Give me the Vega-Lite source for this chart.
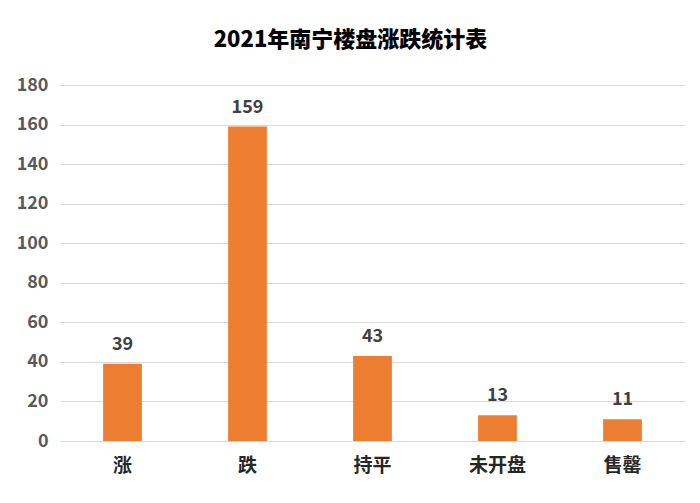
{
  "$schema": "https://vega.github.io/schema/vega-lite/v6.json",
  "autosize": "none",
  "width": 625,
  "height": 356,
  "padding": {"left": 60, "top": 85, "right": 15, "bottom": 62},
  "background": "white",
  "title": {
    "text": "2021年南宁楼盘涨跌统计表",
    "font": "Noto Sans CJK SC",
    "fontSize": 22,
    "fontWeight": 900,
    "color": "#000000",
    "anchor": "middle",
    "dx": -22,
    "offset": 24
  },
  "config": {
    "view": {"stroke": null},
    "font": "Noto Sans CJK SC"
  },
  "data": {
    "values": [
      {"类别": "涨", "数量": 39},
      {"类别": "跌", "数量": 159},
      {"类别": "持平", "数量": 43},
      {"类别": "未开盘", "数量": 13},
      {"类别": "售罄", "数量": 11}
    ]
  },
  "encoding": {
    "x": {
      "field": "类别",
      "type": "nominal",
      "sort": null,
      "scale": {"paddingInner": 0.69, "paddingOuter": 0.345},
      "axis": {
        "title": null,
        "labelAngle": 0,
        "labelFontSize": 19,
        "labelFontWeight": "bold",
        "labelColor": "#262626",
        "labelPadding": 15,
        "ticks": false,
        "domainColor": "#d9d9d9",
        "domainWidth": 1
      }
    },
    "y": {
      "field": "数量",
      "type": "quantitative",
      "scale": {"domain": [0, 180], "nice": false},
      "axis": {
        "title": null,
        "values": [0, 20, 40, 60, 80, 100, 120, 140, 160, 180],
        "labelFontSize": 18,
        "labelFontWeight": "bold",
        "labelColor": "#595959",
        "labelPadding": 12,
        "ticks": false,
        "domain": false,
        "gridColor": "#d9d9d9",
        "gridWidth": 1
      }
    }
  },
  "layer": [
    {"mark": {"type": "bar", "color": "#ed7d31"}},
    {
      "mark": {
        "type": "text",
        "dy": -10,
        "baseline": "bottom",
        "fontSize": 18,
        "fontWeight": "bold",
        "color": "#404040"
      },
      "encoding": {"text": {"field": "数量", "type": "quantitative"}}
    }
  ]
}
